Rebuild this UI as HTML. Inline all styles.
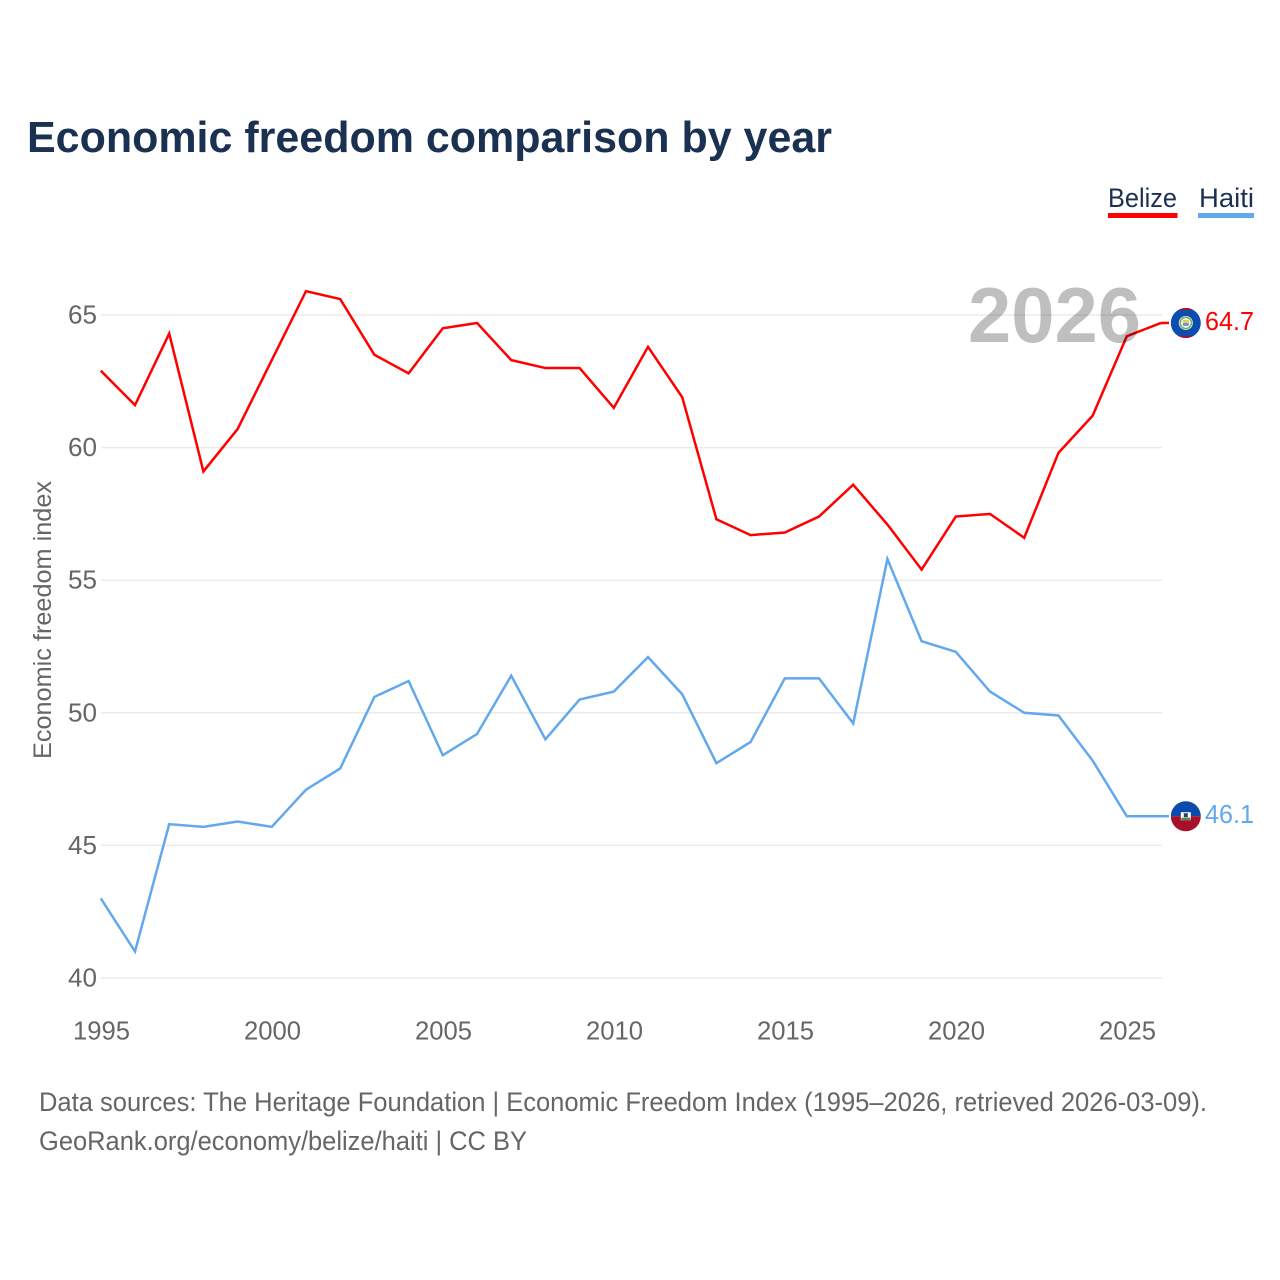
<!DOCTYPE html>
<html>
<head>
<meta charset="utf-8">
<style>
html,body{margin:0;padding:0;background:#fff;}
svg{display:block;}
text{font-family:"Liberation Sans",sans-serif;}
</style>
</head>
<body>
<svg id="chart" xmlns="http://www.w3.org/2000/svg" width="1280" height="1280" viewBox="0 0 1280 1280">
<rect width="1280" height="1280" fill="#fff"/>
<text x="27" y="152" font-size="44" font-weight="bold" fill="#1a3152" textLength="805" lengthAdjust="spacingAndGlyphs">Economic freedom comparison by year</text>
<g>
<g>
<text x="1108" y="207" font-size="27" fill="#1a3152" textLength="69" lengthAdjust="spacingAndGlyphs">Belize</text>
<rect x="1108" y="213" width="69.5" height="5" fill="#ff0000"/>
</g>
<g>
<text x="1199" y="207" font-size="27" fill="#1a3152" textLength="55" lengthAdjust="spacingAndGlyphs">Haiti</text>
<rect x="1198" y="213" width="56" height="5" fill="#62a8ec"/>
</g>
</g>
<g id="grid"></g>
<g id="yticks"></g>
<g id="xticks"></g>
<text transform="translate(51,759) rotate(-90)" font-size="25" fill="#666666" textLength="278" lengthAdjust="spacingAndGlyphs">Economic freedom index</text>
<g id="series"></g>
<text x="968" y="342" font-size="78" font-weight="bold" fill="#000" fill-opacity="0.25" textLength="173" lengthAdjust="spacingAndGlyphs">2026</text>
<defs>
<clipPath id="clipBelize"><circle id="cb" r="15"/></clipPath>
<clipPath id="clipHaiti"><circle id="ch" r="15"/></clipPath>
</defs>
<g id="flagBelize">
<g clip-path="url(#clipBelize)">
<rect x="-16" y="-16" width="32" height="32" fill="#0a4fb0" id="fb1"/>
<rect x="-16" y="-16" width="32" height="3.2" fill="#a8102a"/>
<rect x="-16" y="12.8" width="32" height="3.2" fill="#a8102a"/>
<circle r="7" fill="#ffffff"/>
<circle r="5.6" fill="none" stroke="#7fae5a" stroke-width="1.6"/>
<rect x="-3" y="-3" width="6" height="3" fill="#e8c85a"/>
<rect x="-3" y="0" width="6" height="3" fill="#6a9ad0"/>
</g>
</g>
<g id="flagHaiti">
<g clip-path="url(#clipHaiti)">
<rect x="-16" y="-16" width="32" height="16" fill="#0a4bab"/>
<rect x="-16" y="0" width="32" height="16" fill="#a80f2b"/>
<rect x="-5" y="-4" width="10" height="8" fill="#ffffff"/>
<rect x="-2" y="-3" width="4" height="4" fill="#27406a"/>
<rect x="-4.5" y="1.5" width="9" height="2.5" fill="#4f8f3f"/>
</g>
</g>
<text id="labelBelize" font-size="26" fill="#ff0000" textLength="49" lengthAdjust="spacingAndGlyphs"></text>
<text id="labelHaiti" font-size="26" fill="#62a8ec" textLength="49" lengthAdjust="spacingAndGlyphs"></text>
<text x="39" y="1111" font-size="27" fill="#666666" textLength="1168" lengthAdjust="spacingAndGlyphs">Data sources: The Heritage Foundation | Economic Freedom Index (1995–2026, retrieved 2026-03-09).</text>
<text x="39" y="1150" font-size="27" fill="#666666" textLength="488" lengthAdjust="spacingAndGlyphs">GeoRank.org/economy/belize/haiti | CC BY</text>
</svg>
<script>
const years = [1995,1996,1997,1998,1999,2000,2001,2002,2003,2004,2005,2006,2007,2008,2009,2010,2011,2012,2013,2014,2015,2016,2017,2018,2019,2020,2021,2022,2023,2024,2025,2026];
const belize = [62.9,61.6,64.3,59.1,60.7,63.3,65.9,65.6,63.5,62.8,64.5,64.7,63.3,63.0,63.0,61.5,63.8,61.9,57.3,56.7,56.8,57.4,58.6,57.1,55.4,57.4,57.5,56.6,59.8,61.2,64.2,64.7];
const haiti = [43.0,41.0,45.8,45.7,45.9,45.7,47.1,47.9,50.6,51.2,48.4,49.2,51.4,49.0,50.5,50.8,52.1,50.7,48.1,48.9,51.3,51.3,49.6,55.8,52.7,52.3,50.8,50.0,49.9,48.2,46.1,46.1];
const yTickValues = [40,45,50,55,60,65];
const xTickValues = [1995,2000,2005,2010,2015,2020,2025];

const NS = 'http://www.w3.org/2000/svg';
const xScale = function (v) { return 100.8 + (v - 1995) * 34.2; };
const yScale = function (v) { return 978 - (v - 40) * 26.52; };

function make(tag, parent) {
  const el = document.createElementNS(NS, tag);
  parent.appendChild(el);
  return el;
}

const grid = document.getElementById('grid');
const yticks = document.getElementById('yticks');
yTickValues.forEach(function (v) {
  const line = make('line', grid);
  
  
  line.setAttribute('x1', 101);
  line.setAttribute('x2', 1162);
  line.setAttribute('y1', yScale(v));
  line.setAttribute('y2', yScale(v));
  line.setAttribute('stroke', '#ebebeb');
  line.setAttribute('stroke-width', 1.5);
  const t = make('text', yticks);
  
  
  t.setAttribute('x', 68);
  t.setAttribute('y', yScale(v) + 8.5);
  t.setAttribute('font-size', 26);
  t.setAttribute('fill', '#666666');
  t.setAttribute('textLength', 29);
  t.setAttribute('lengthAdjust', 'spacingAndGlyphs');
  t.textContent = v;
});

const xticks = document.getElementById('xticks');
xTickValues.forEach(function (v) {
  const t = make('text', xticks);
  
  
  t.setAttribute('x', xScale(v) - 27.8);
  t.setAttribute('y', 1039.5);
  t.setAttribute('font-size', 26);
  t.setAttribute('fill', '#666666');
  t.setAttribute('textLength', 57);
  t.setAttribute('lengthAdjust', 'spacingAndGlyphs');
  t.textContent = v;
});

const seriesGroup = document.getElementById('series');
function drawSeries(values, color, name) {
  const last = values[values.length - 1];
  const pts = values.map(function (v, i) { return xScale(years[i]) + ',' + yScale(v); });
  const line = make('polyline', seriesGroup);
  
  
  line.setAttribute('points', pts.join(' '));
  line.setAttribute('fill', 'none');
  line.setAttribute('stroke', color);
  line.setAttribute('stroke-width', 2.5);
  line.setAttribute('stroke-linejoin', 'miter');
  const tail = make('line', seriesGroup);
  
  
  tail.setAttribute('x1', xScale(years[years.length - 1]));
  tail.setAttribute('x2', xScale(years[years.length - 1]) + 8);
  tail.setAttribute('y1', yScale(last));
  tail.setAttribute('y2', yScale(last));
  tail.setAttribute('stroke', color);
  tail.setAttribute('stroke-width', 2.5);
}
drawSeries(belize, '#ff0000', 'belize-line');
drawSeries(haiti, '#62a8ec', 'haiti-line');

function placeEnd(values, flagId, clipId, labelId) {
  const last = values[values.length - 1];
  const x = xScale(years[years.length - 1]) + 24.8;
  const y = yScale(last);
  document.getElementById(flagId).setAttribute('transform', 'translate(' + x + ',' + y + ')');
  document.getElementById(clipId).setAttribute('cx', 0);
  const label = document.getElementById(labelId);
  label.setAttribute('x', 1205);
  label.setAttribute('y', y + 7);
  label.textContent = last.toFixed(1);
}
placeEnd(belize, 'flagBelize', 'cb', 'labelBelize');
placeEnd(haiti, 'flagHaiti', 'ch', 'labelHaiti');
</script>
</body>
</html>
